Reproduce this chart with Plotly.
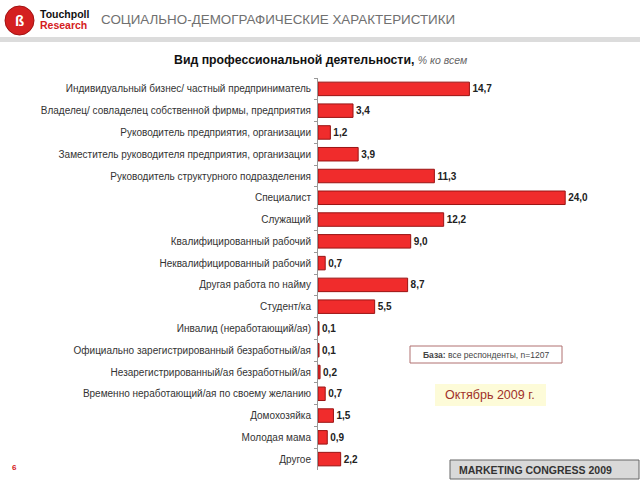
import plotly.graph_objects as go

categories = [
    "Индивидуальный бизнес/ частный предприниматель",
    "Владелец/ совладелец собственной фирмы, предприятия",
    "Руководитель предприятия, организации",
    "Заместитель руководителя предприятия, организации",
    "Руководитель структурного подразделения",
    "Специалист",
    "Служащий",
    "Квалифицированный рабочий",
    "Неквалифицированный рабочий",
    "Другая работа по найму",
    "Студент/ка",
    "Инвалид (неработающий/ая)",
    "Официально зарегистрированный безработный/ая",
    "Незарегистрированный/ая безработный/ая",
    "Временно неработающий/ая по своему желанию",
    "Домохозяйка",
    "Молодая мама",
    "Другое",
]
values = [14.7, 3.4, 1.2, 3.9, 11.3, 24.0, 12.2, 9.0, 0.7, 8.7, 5.5, 0.1, 0.1, 0.2, 0.7, 1.5, 0.9, 2.2]

W, H = 640, 480
L, R, T, B = 318, 13, 78, 10
pw, ph = W - L - R, H - T - B


def px(x):
    return (x - L) / pw


def py(y):
    return 1 - (y - T) / ph


fig = go.Figure()
fig.add_trace(go.Bar(
    y=categories, x=values, orientation="h",
    marker=dict(color="#f02c2c", line=dict(color="#9a1414", width=1)),
    texttemplate="<b>%{x:.1f}</b>", textposition="outside",
    textfont=dict(family="Liberation Sans, Arial", size=10, color="#222"),
    cliponaxis=False,
))

fig.update_layout(
    width=W, height=H,
    margin=dict(l=L, r=R, t=T, b=B),
    paper_bgcolor="white", plot_bgcolor="white",
    separators=", ",
    bargap=0.38,
    showlegend=False,
    font=dict(family="Liberation Sans, Arial", size=11, color="#333"),
    xaxis=dict(range=[0, 30], visible=False, fixedrange=True),
    yaxis=dict(
        categoryorder="array", categoryarray=categories, autorange="reversed",
        showline=True, linecolor="#999", linewidth=1,
        ticks="outside", tickson="boundaries", ticklen=3, tickcolor="#999",
        tickfont=dict(size=10, color="#333"), showgrid=False, ticklabelstandoff=4,
    ),
)

shapes = [
    dict(type="rect", xref="paper", yref="paper", x0=px(0), x1=px(640), y0=py(42), y1=py(37),
         fillcolor="#dcdcdc", line=dict(width=0), layer="below"),
    dict(type="circle", xref="paper", yref="paper", x0=px(5), x1=px(34), y0=py(35), y1=py(6),
         fillcolor="#d42020", line=dict(color="#a01010", width=1)),
    dict(type="rect", xref="paper", yref="paper", x0=px(410), x1=px(562), y0=py(363), y1=py(346),
         fillcolor="white", line=dict(color="#b07070", width=1)),
    dict(type="rect", xref="paper", yref="paper", x0=px(435), x1=px(546), y0=py(406), y1=py(384),
         fillcolor="#fdfbd8", line=dict(width=0), layer="below"),
    dict(type="rect", xref="paper", yref="paper", x0=px(450), x1=px(639), y0=py(479), y1=py(460),
         fillcolor="#d9d9d9", line=dict(color="#666", width=1)),
]


def ann(x, y, text, size, color, xanchor="left"):
    return dict(xref="paper", yref="paper", x=px(x), y=py(y), text=text,
                font=dict(size=size, color=color), showarrow=False,
                xanchor=xanchor, yanchor="middle")


annotations = [
    ann(19.5, 20.5, "<b>ß</b>", 15, "white", "center"),
    ann(38, 14, "<b>Touchpoll</b>", 10.5, "#111"),
    ann(38, 25, "<b>Research</b>", 10.5, "#d42020"),
    ann(99, 20, "СОЦИАЛЬНО-ДЕМОГРАФИЧЕСКИЕ ХАРАКТЕРИСТИКИ", 13.4, "#707070"),
    ann(320, 60, "<b>Вид профессиональной деятельности,</b> <i><span style='font-size:10.5px;color:#666'>% ко всем</span></i>",
        12.3, "#111", "center"),
    ann(486, 354.5, "<b>База:</b> все респонденты, n=1207", 8.5, "#444", "center"),
    ann(490, 395, "Октябрь 2009 г.", 12.5, "#a0302a", "center"),
    ann(457, 469.5, "<b>MARKETING CONGRESS 2009</b>", 10.5, "#333"),
    ann(14, 467, "<b>6</b>", 8, "#d42020", "center"),
]

fig.update_layout(shapes=shapes, annotations=annotations)
fig.write_html("out.html")
